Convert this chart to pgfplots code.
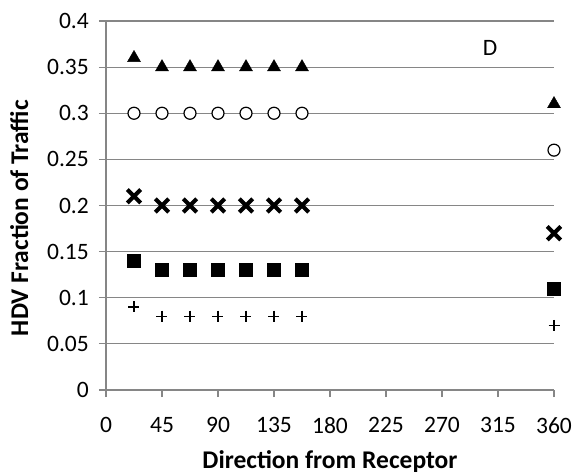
\documentclass[border=0pt]{standalone}
\usepackage{pgfplots}
\pgfplotsset{compat=1.18}
\usepackage{fontspec}
\setmainfont{Carlito}
\definecolor{gridgray}{RGB}{134,134,134}
\newcommand{\bigf}{\fontsize{25.5bp}{30bp}\selectfont}
\newcommand{\tickf}{\fontsize{23.5bp}{28bp}\selectfont}
\begin{document}
\bigf
\begin{tikzpicture}
\begin{axis}[
 at={(0,0)}, anchor=south west,
 scale only axis, width=448bp, height=369bp,
 xmin=0, xmax=360, ymin=0, ymax=0.4,
 xtick={0,45,90,135,180,225,270,315,360},
 ytick={0,0.05,0.1,0.15,0.2,0.25,0.3,0.35,0.4},
 axis x line*=bottom, axis y line*=left,
 axis line style={gridgray, line width=1.2bp, -},
 ymajorgrids, major grid style={gridgray, line width=1.2bp},
 tick style={gridgray, line width=1.2bp},
 tick align=outside, major tick length=7bp,
 /pgf/number format/assume math mode=true,
 /pgf/number format/fixed, /pgf/number format/precision=2,
 xticklabel style={font=\tickf, anchor=north, inner sep=0pt, yshift=-20bp},
 yticklabel style={font=\tickf, anchor=east, inner sep=0pt, xshift=-10bp},
 ylabel={HDV Fraction of Traffic},
 xlabel={Direction from Receptor},
 xlabel style={font=\bigf\bfseries, at={(axis description cs:0.5,-0.2114)}, anchor=base, inner sep=0pt},
 ylabel style={font=\bigf\bfseries, at={(axis description cs:-0.174,0.466)}, anchor=base, inner sep=0pt},
 clip=false,
]
\addplot[only marks, mark=triangle*, mark size=7.5bp, black] coordinates {
 (22.5,0.36) (45,0.35) (67.5,0.35) (90,0.35) (112.5,0.35) (135,0.35) (157.5,0.35) (360,0.31)};
\addplot[only marks, mark=*, mark size=6bp, black, mark options={fill=white, line width=1.2bp}] coordinates {
 (22.5,0.30) (45,0.30) (67.5,0.30) (90,0.30) (112.5,0.30) (135,0.30) (157.5,0.30) (360,0.26)};
\addplot[only marks, mark=x, mark size=9.5bp, black, mark options={line width=4bp}] coordinates {
 (22.5,0.21) (45,0.20) (67.5,0.20) (90,0.20) (112.5,0.20) (135,0.20) (157.5,0.20) (360,0.17)};
\addplot[only marks, mark=square*, mark size=6.5bp, black] coordinates {
 (22.5,0.14) (45,0.13) (67.5,0.13) (90,0.13) (112.5,0.13) (135,0.13) (157.5,0.13) (360,0.11)};
\addplot[only marks, mark=+, mark size=5.5bp, black, mark options={line width=1.1bp}] coordinates {
 (22.5,0.09) (45,0.08) (67.5,0.08) (90,0.08) (112.5,0.08) (135,0.08) (157.5,0.08) (360,0.07)};
\node[font=\tickf] at (axis cs:308.6,0.371) {D};
\end{axis}
\pgfresetboundingbox
\path (-106bp,-84bp) rectangle (470bp,390bp);
\end{tikzpicture}
\end{document}
